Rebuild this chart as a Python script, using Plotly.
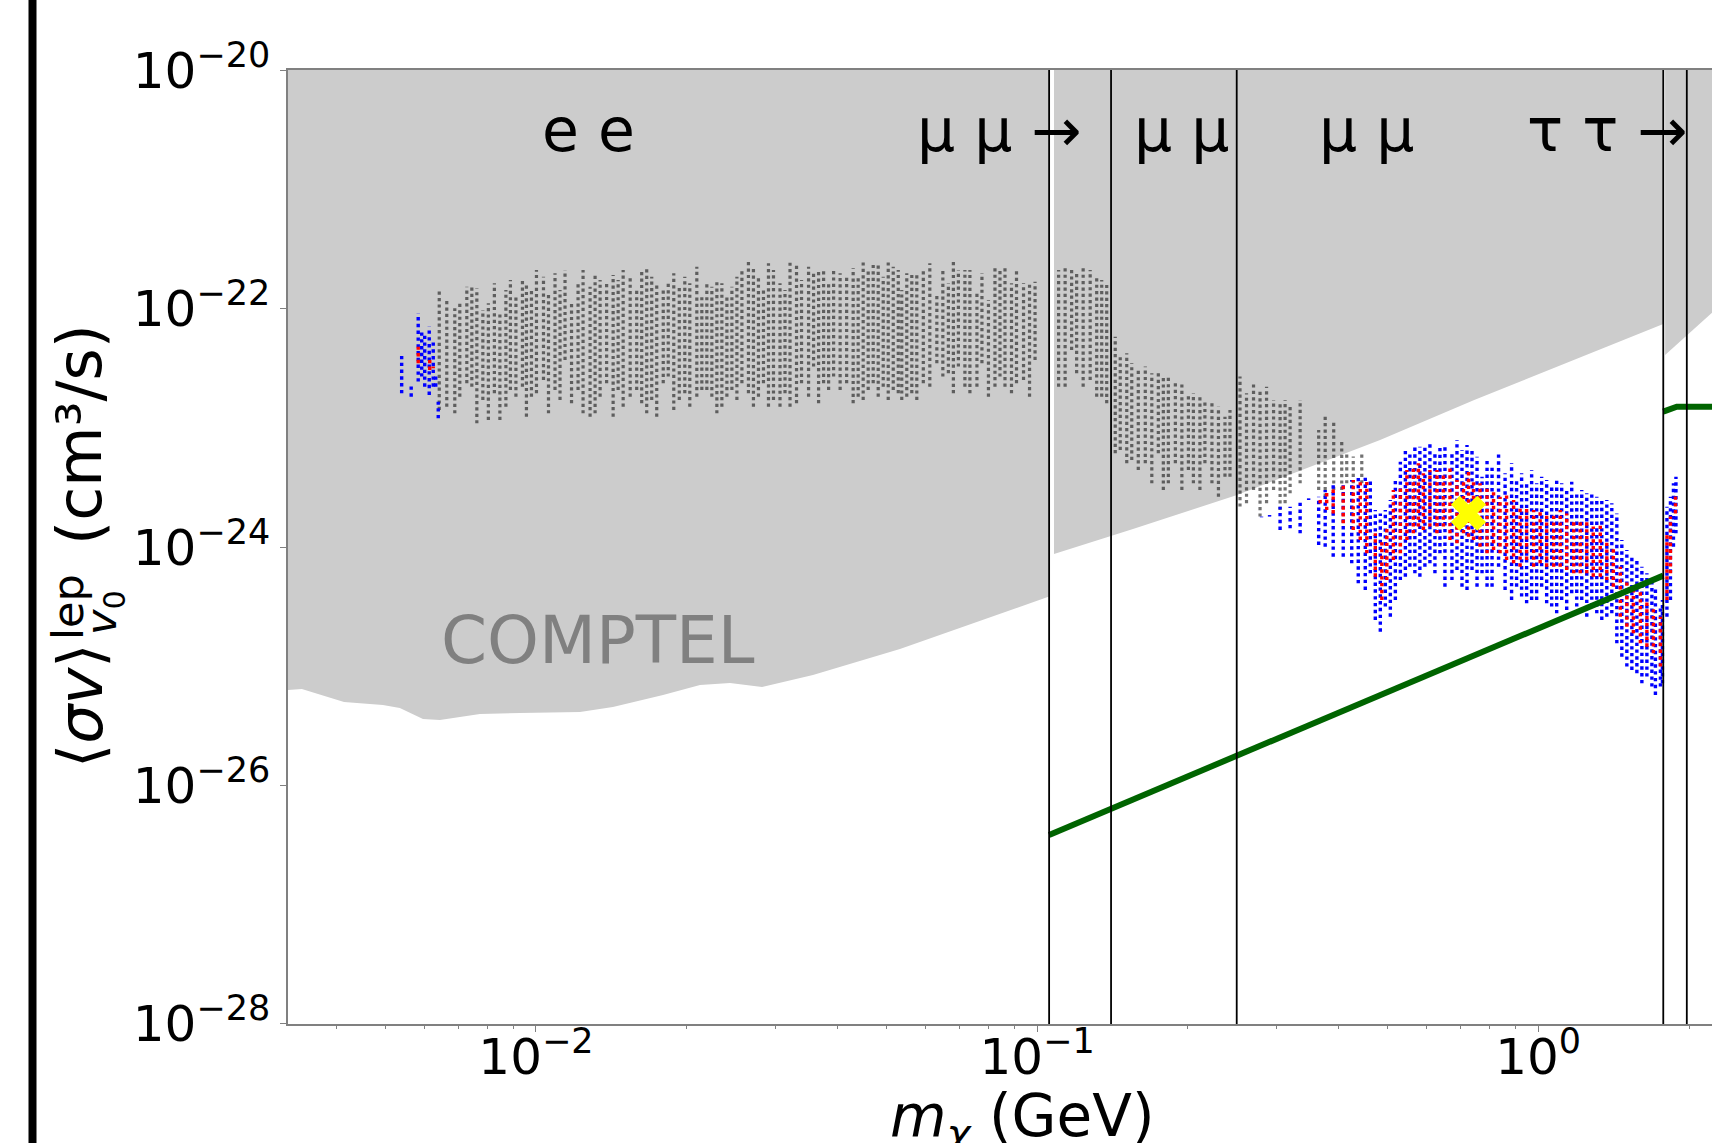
import numpy as np
import plotly.graph_objects as go

# ---------------------------------------------------------------------------
# COMPTEL exclusion boundary (lower edge of the shaded region), split at the
# muon and tau thresholds.  Mass in GeV, <sigma v> as log10(cm^3/s).
comptel_m_ee = [0.00320, 0.00341, 0.00414, 0.00495, 0.00535, 0.00595, 0.00643,
                0.00773, 0.00929, 0.01224, 0.01424, 0.01793, 0.02125, 0.02439,
                0.02826, 0.03571, 0.05326, 0.07802, 0.1057]
comptel_logsv_ee = [-25.199, -25.191, -25.300, -25.325, -25.350, -25.442, -25.451,
                    -25.400, -25.392, -25.384, -25.342, -25.241, -25.157, -25.140,
                    -25.174, -25.073, -24.855, -24.612, -24.415]
comptel_m_mu = [0.1081, 0.1554, 0.2507, 0.4837, 0.7454, 1.777]
comptel_logsv_mu = [-24.059, -23.849, -23.564, -23.103, -22.767, -22.130]
comptel_m_tau = [1.792, 2.30]
comptel_logsv_tau = [-22.390, -21.980]

# Green limit line (two pieces, below and above the tau threshold)
limit_m_lo = [0.1057, 1.777]
limit_logsv_lo = [-26.415, -24.240]
limit_m_hi = [1.777, 1.891, 2.30]
limit_logsv_hi = [-22.865, -22.823, -22.823]

# Channel thresholds (vertical lines), GeV
threshold_m = [0.1057, 0.1405, 0.2503, 1.777, 1.98]

# Channel labels
channel_text = ["e e", "μ μ →", "μ μ", "μ μ", "τ τ →"]
channel_m = [0.0102, 0.0571, 0.1545, 0.3613, 0.9399]
channel_sv = 2.0e-21

# Best-fit point
best_m = 0.726
best_logsv = -23.717

# ---------------------------------------------------------------------------
# Scan points, grouped in mass columns: log10(m/GeV) and the vertical extent
# (log10 <sigma v>) of each column.
gray_logm = [
    -2.193, -2.178, -2.162, -2.152, -2.138, -2.128, -2.118, -2.106, -2.095, -2.083,
    -2.072, -2.060, -2.051, -2.040, -2.027, -2.019, -2.009, -1.999, -1.985, -1.975,
    -1.962, -1.952, -1.942, -1.929, -1.916, -1.906, -1.892, -1.882, -1.872, -1.859,
    -1.846, -1.836, -1.826, -1.812, -1.799, -1.789, -1.779, -1.769, -1.759, -1.746,
    -1.736, -1.725, -1.714, -1.703, -1.693, -1.679, -1.669, -1.659, -1.649, -1.639,
    -1.629, -1.619, -1.609, -1.599, -1.589, -1.576, -1.566, -1.556, -1.546, -1.536,
    -1.526, -1.513, -1.503, -1.493, -1.480, -1.470, -1.456, -1.446, -1.436, -1.426,
    -1.416, -1.406, -1.393, -1.380, -1.367, -1.357, -1.347, -1.337, -1.327, -1.317,
    -1.307, -1.297, -1.287, -1.277,
    -1.270, -1.260, -1.250, -1.240, -1.227, -1.214, -1.200, -1.188, -1.177, -1.167,
    -1.157, -1.144, -1.134, -1.120, -1.110, -1.097, -1.084, -1.074, -1.064, -1.051,
    -1.041, -1.027, -1.015, -1.004,
    -0.957, -0.944, -0.931, -0.921, -0.908, -0.894, -0.881, -0.871, -0.861,
    -0.844, -0.834, -0.821, -0.811, -0.798, -0.784, -0.771, -0.758, -0.748, -0.738,
    -0.724, -0.711, -0.698, -0.688, -0.675, -0.665, -0.651, -0.638, -0.625, -0.615,
    -0.595, -0.582, -0.568, -0.555, -0.542, -0.528, -0.515, -0.505, -0.495, -0.475,
    -0.438, -0.425, -0.408, -0.392, -0.382, -0.369, -0.352]
gray_hi = [
    -21.845, -21.928, -21.998, -21.956, -21.817, -21.803, -21.831, -22.012, -21.956, -21.789,
    -22.040, -21.845, -21.761, -21.900, -21.747, -21.789, -21.845, -21.677, -21.733, -21.872,
    -21.705, -21.845, -21.677, -21.956, -21.789, -21.677, -21.817, -21.719, -21.761, -21.789,
    -21.719, -21.761, -21.677, -21.733, -21.845, -21.677, -21.649, -21.733, -21.789, -21.845,
    -21.789, -21.705, -21.817, -21.733, -21.789, -21.649, -21.900, -21.789, -21.817, -21.761,
    -21.789, -21.900, -21.817, -21.733, -21.677, -21.607, -21.649, -21.733, -21.845, -21.621,
    -21.677, -21.789, -21.845, -21.607, -21.635, -21.761, -21.649, -21.705, -21.677, -21.677,
    -21.789, -21.677, -21.705, -21.733, -21.663, -21.733, -21.593, -21.677, -21.621, -21.621,
    -21.733, -21.607, -21.649, -21.677,
    -21.845, -21.705, -21.719, -21.719, -21.677, -21.621, -21.872, -21.677, -21.789, -21.593,
    -21.677, -21.677, -21.677, -21.872, -21.705, -21.928, -21.649, -21.677, -21.649, -21.789,
    -21.677, -21.789, -21.775, -21.775,
    -21.677, -21.649, -21.649, -21.705, -21.635, -21.677, -21.733, -21.761, -21.789,
    -22.236, -22.404, -22.376, -22.459, -22.515, -22.487, -22.543, -22.515, -22.571, -22.571,
    -22.627, -22.627, -22.711, -22.711, -22.739, -22.767, -22.795, -22.823, -22.907, -22.851,
    -22.571, -22.711, -22.627, -22.683, -22.655, -22.767, -22.795, -22.767, -22.823, -22.767,
    -23.018, -22.907, -22.935, -23.102, -23.214, -23.242, -23.214]
gray_lo = [
    -22.851, -22.823, -22.879, -22.739, -22.627, -22.655, -22.963, -22.767, -22.935, -22.711,
    -22.935, -22.823, -22.683, -22.739, -22.655, -22.907, -22.739, -22.711, -22.599, -22.879,
    -22.683, -22.767, -22.431, -22.795, -22.683, -22.879, -22.907, -22.879, -22.739, -22.627,
    -22.907, -22.683, -22.823, -22.739, -22.683, -22.795, -22.879, -22.767, -22.907, -22.627,
    -22.571, -22.851, -22.767, -22.711, -22.823, -22.739, -22.683, -22.683, -22.739, -22.879,
    -22.823, -22.739, -22.683, -22.767, -22.627, -22.711, -22.823, -22.739, -22.627, -22.823,
    -22.767, -22.823, -22.711, -22.823, -22.795, -22.627, -22.739, -22.487, -22.795, -22.627,
    -22.683, -22.571, -22.683, -22.627, -22.795, -22.739, -22.767, -22.683, -22.627, -22.739,
    -22.655, -22.767, -22.683, -22.711,
    -22.767, -22.739, -22.711, -22.767, -22.627, -22.655, -22.459, -22.571, -22.543, -22.711,
    -22.487, -22.655, -22.711, -22.655, -22.459, -22.739, -22.655, -22.571, -22.655, -22.711,
    -22.627, -22.599, -22.739, -22.431,
    -22.655, -22.655, -22.348, -22.543, -22.655, -22.599, -22.739, -22.739, -22.795,
    -23.214, -23.186, -23.298, -23.270, -23.354, -23.298, -23.466, -23.214, -23.522, -23.466,
    -23.298, -23.522, -23.354, -23.466, -23.522, -23.298, -23.466, -23.578, -23.410, -23.410,
    -23.661, -23.633, -23.522, -23.745, -23.633, -23.522, -23.689, -23.633, -23.550, -23.466,
    -23.522, -23.578, -23.522, -23.522, -23.466, -23.466, -23.466]

blue_logm = [
    -2.268, -2.249, -2.235, -2.228, -2.222, -2.213, -2.205, -2.200, -2.195,
    -0.552, -0.536, -0.515, -0.495, -0.475, -0.458, -0.438, -0.425, -0.409, -0.389,
    -0.372, -0.359, -0.345, -0.335, -0.325, -0.315, -0.305, -0.295, -0.285, -0.275,
    -0.265, -0.256, -0.246, -0.236, -0.226, -0.216, -0.206, -0.196, -0.186, -0.172,
    -0.162, -0.152, -0.142, -0.132, -0.122, -0.112, -0.102, -0.092, -0.079, -0.066,
    -0.053, -0.043, -0.033, -0.023, -0.013, -0.003, 0.007, 0.017, 0.027, 0.037,
    0.047, 0.057, 0.067, 0.077, 0.087, 0.097, 0.107, 0.117, 0.127, 0.137,
    0.147, 0.157, 0.167, 0.177, 0.187, 0.197, 0.207, 0.217, 0.227, 0.234,
    0.244, 0.248, 0.257, 0.264, 0.270, 0.275]
blue_hi = [
    -22.376, -22.641, -22.040, -22.180, -22.208, -22.152, -22.264, -22.543, -22.781,
    -23.745, -23.732, -23.662, -23.662, -23.620, -23.592, -23.578, -23.522, -23.466, -23.466,
    -23.438, -23.410, -23.396, -23.424, -23.690, -23.718, -23.690, -23.606, -23.438, -23.284,
    -23.173, -23.201, -23.145, -23.159, -23.159, -23.131, -23.215, -23.145, -23.159, -23.215,
    -23.103, -23.187, -23.145, -23.187, -23.243, -23.410, -23.270, -23.326, -23.215, -23.382,
    -23.298, -23.438, -23.382, -23.466, -23.354, -23.466, -23.410, -23.438, -23.494, -23.438,
    -23.466, -23.522, -23.452, -23.550, -23.522, -23.550, -23.536, -23.578, -23.592, -23.606,
    -23.634, -23.718, -23.941, -24.025, -24.081, -24.109, -24.165, -24.221, -24.277, -24.333,
    -24.500, -24.444, -23.662, -23.578, -23.466, -23.410]
blue_lo = [
    -22.711, -22.739, -22.613, -22.571, -22.655, -22.725, -22.655, -22.655, -22.921,
    -23.751, -23.745, -23.857, -23.843, -23.885, -23.606, -23.983, -23.997, -24.081, -24.081,
    -24.137, -24.305, -24.360, -24.221, -24.612, -24.710, -24.500, -24.584, -24.444, -24.277,
    -24.249, -24.165, -24.221, -24.249, -24.165, -24.137, -24.221, -24.053, -24.333, -24.277,
    -24.193, -24.333, -24.360, -24.193, -24.333, -24.221, -24.333, -24.333, -24.165, -24.360,
    -24.444, -24.333, -24.416, -24.472, -24.444, -24.444, -24.333, -24.472, -24.500, -24.556,
    -24.444, -24.528, -24.388, -24.500, -24.444, -24.584, -24.500, -24.556, -24.612, -24.584,
    -24.556, -24.808, -24.920, -25.003, -25.031, -25.059, -25.143, -25.087, -25.171, -25.241,
    -25.171, -25.143, -24.584, -24.444, -23.997, -23.885]

red_logm = [
    -2.235, -2.212, -2.205,
    -0.435, -0.422, -0.409, -0.389, -0.369, -0.355, -0.342, -0.325, -0.312, -0.302,
    -0.289, -0.275, -0.262, -0.249, -0.239, -0.229, -0.216, -0.202, -0.189, -0.176,
    -0.162, -0.149, -0.139, -0.129, -0.116, -0.102, -0.089, -0.076, -0.063, -0.049,
    -0.036, -0.023, -0.009, 0.004, 0.017, 0.031, 0.044, 0.057, 0.071, 0.084,
    0.097, 0.110, 0.124, 0.137, 0.150, 0.164, 0.177, 0.190, 0.204, 0.217,
    0.230, 0.244, 0.257, 0.264, 0.274]
red_hi = [
    -22.320, -22.431, -22.487,
    -23.578, -23.522, -23.494, -23.480, -23.438, -23.438, -23.438, -23.885, -23.941, -23.829,
    -23.522, -23.494, -23.354, -23.326, -23.298, -23.382, -23.354, -23.354, -23.382, -23.326,
    -23.438, -23.438, -23.354, -23.438, -23.466, -23.494, -23.522, -23.578, -23.550, -23.606,
    -23.662, -23.662, -23.690, -23.690, -23.718, -23.718, -23.690, -23.718, -23.773, -23.773,
    -23.773, -23.829, -23.801, -23.941, -23.997, -24.165, -24.277, -24.333, -24.360, -24.444,
    -24.500, -24.584, -23.885, -23.745, -23.550]
red_lo = [
    -22.459, -22.515, -22.501,
    -23.634, -23.690, -23.718, -23.801, -23.857, -23.941, -24.053, -24.249, -24.444, -24.277,
    -24.109, -24.053, -23.941, -23.885, -23.829, -23.857, -23.829, -23.885, -23.829, -23.941,
    -23.969, -23.885, -23.913, -23.941, -23.997, -24.053, -24.025, -24.053, -24.109, -24.137,
    -24.165, -24.109, -24.165, -24.137, -24.165, -24.165, -24.165, -24.193, -24.221, -24.221,
    -24.221, -24.249, -24.249, -24.277, -24.333, -24.584, -24.668, -24.724, -24.808, -24.836,
    -24.892, -25.003, -24.444, -24.221, -23.718]

# ---------------------------------------------------------------------------
X_MIN, X_MAX = 3.2e-3, 2.223
Y_MIN, Y_MAX = 1e-28, 1e-20
FONT = "DejaVu Sans"
AXIS_GREY = "#808080"


def column_segments(logm, lo, hi):
    xs, ys = [], []
    for m, a, b in zip(logm, lo, hi):
        xs += [10 ** m, 10 ** m, None]
        ys += [10 ** a, 10 ** b, None]
    return xs, ys


def shaded_region(m, logsv):
    xs = list(m) + [m[-1], m[0]]
    ys = [10 ** v for v in logsv] + [1e-19, 1e-19]
    return xs, ys


fig = go.Figure()

# COMPTEL shaded region
for m, s in [(comptel_m_ee, comptel_logsv_ee),
             (comptel_m_mu, comptel_logsv_mu),
             (comptel_m_tau, comptel_logsv_tau)]:
    xs, ys = shaded_region(m, s)
    fig.add_trace(go.Scatter(x=xs, y=ys, mode="lines", fill="toself",
                             fillcolor="#cccccc", line=dict(width=0),
                             hoverinfo="skip"))

# scan points
for logm, lo, hi, colour, w in [
        (gray_logm, gray_lo, gray_hi, "rgba(20,20,20,0.6)", 3.2),
        (blue_logm, blue_lo, blue_hi, "#0000ff", 3.4),
        (red_logm, red_lo, red_hi, "#ff0000", 3.4)]:
    xs, ys = column_segments(logm, lo, hi)
    fig.add_trace(go.Scatter(x=xs, y=ys, mode="lines",
                             line=dict(color=colour, width=w, dash="dot"),
                             hoverinfo="skip"))

# green limit
for m, s in [(limit_m_lo, limit_logsv_lo), (limit_m_hi, limit_logsv_hi)]:
    fig.add_trace(go.Scatter(x=m, y=[10 ** v for v in s], mode="lines",
                             line=dict(color="#006400", width=6),
                             hoverinfo="skip"))

# threshold lines
vx, vy = [], []
for m in threshold_m:
    vx += [m, m, None]
    vy += [Y_MIN, Y_MAX, None]
fig.add_trace(go.Scatter(x=vx, y=vy, mode="lines",
                         line=dict(color="black", width=1.8), hoverinfo="skip"))

# best-fit marker
fig.add_trace(go.Scatter(x=[best_m], y=[10 ** best_logsv], mode="markers",
                         marker=dict(symbol="x", size=31, color="#ffff00",
                                     line=dict(width=0)),
                         hoverinfo="skip"))

# text
annotations = []
for txt, m in zip(channel_text, channel_m):
    annotations.append(dict(x=np.log10(m), y=np.log10(channel_sv), xref="x", yref="y",
                            text=txt, showarrow=False, xanchor="left",
                            yanchor="bottom", yshift=-14,
                            font=dict(family=FONT, size=60, color="black")))
annotations.append(dict(x=np.log10(0.0064), y=-25.0, xref="x", yref="y",
                        text="COMPTEL", showarrow=False, xanchor="left",
                        yanchor="bottom", yshift=-15,
                        font=dict(family=FONT, size=66, color="#808080")))

L, T, B = 288, 70, 1024
PW, PH = 1712 - L, B - T


def px(x):
    return (x - L) / PW


def py(y):
    return (B - y) / PH


ylab = [("⟨<i>σv</i>⟩", 80, 706, 62),
        ("lep", 68, 607, 43),
        ("<i>v</i><sub>0</sub>", 104, 612, 43),
        ("(cm³/s)", 80, 435, 62)]
for txt, x, y, s in ylab:
    annotations.append(dict(x=px(x), y=py(y), xref="paper", yref="paper",
                            text=txt, showarrow=False, textangle=-90,
                            xanchor="center", yanchor="middle",
                            font=dict(family=FONT, size=s, color="black")))
annotations.append(dict(x=px(1022), y=py(1120), xref="paper", yref="paper",
                        text="<i>m</i><sub><i>χ</i></sub> (GeV)", showarrow=False,
                        xanchor="center", yanchor="middle",
                        font=dict(family=FONT, size=58, color="black")))

minor_vals = [k * 10.0 ** e for e in range(-3, 1) for k in range(2, 10)
              if X_MIN <= k * 10.0 ** e <= X_MAX]

fig.update_layout(
    width=1712, height=1143,
    margin=dict(l=L, r=0, t=T, b=1143 - B, pad=0),
    paper_bgcolor="white", plot_bgcolor="white",
    showlegend=False,
    font=dict(family=FONT, color="black"),
    annotations=annotations,
    shapes=[dict(type="line", xref="paper", yref="paper",
                 x0=px(32.5), x1=px(32.5), y0=-0.2, y1=1.2,
                 line=dict(color="black", width=8))],
    xaxis=dict(type="log", range=[np.log10(X_MIN), np.log10(X_MAX)],
               showgrid=False, zeroline=False,
               showline=True, linecolor=AXIS_GREY, linewidth=1.6, mirror=True,
               ticks="outside", ticklen=6, tickwidth=1.4, tickcolor=AXIS_GREY,
               tickvals=[0.01, 0.1, 1],
               ticktext=["10<sup>−2</sup>", "10<sup>−1</sup>", "10<sup>0</sup>"],
               ticklabelstandoff=-18,
               tickfont=dict(family=FONT, size=50, color="black"),
               minor=dict(ticks="outside", ticklen=3.5, tickwidth=1,
                          tickcolor=AXIS_GREY, tickvals=minor_vals, showgrid=False)),
    yaxis=dict(type="log", range=[-28.0005, -19.9995],
               showgrid=False, zeroline=False,
               showline=True, linecolor=AXIS_GREY, linewidth=1.6,
               ticks="outside", ticklen=6, tickwidth=1.4, tickcolor=AXIS_GREY,
               tickvals=[1e-28, 1e-26, 1e-24, 1e-22, 1e-20],
               ticktext=["10<sup>−28</sup>", "10<sup>−26</sup>", "10<sup>−24</sup>",
                         "10<sup>−22</sup>", "10<sup>−20</sup>"],
               tickfont=dict(family=FONT, size=50, color="black")),
)

fig.write_html("out.html")
